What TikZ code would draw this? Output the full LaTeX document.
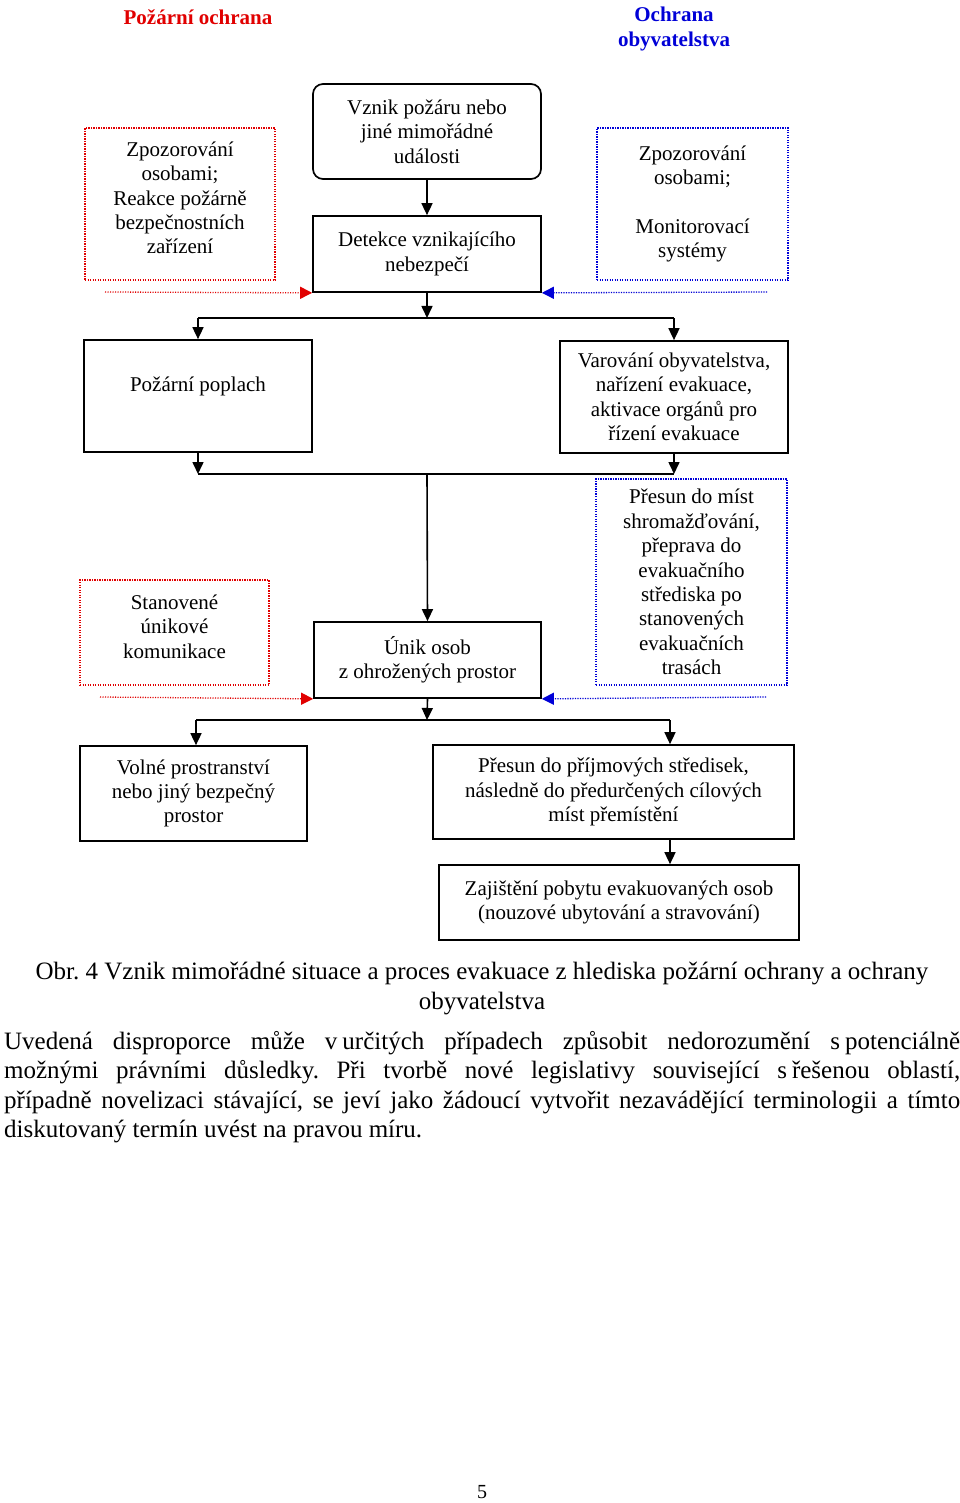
\documentclass[tikz,border=0pt]{standalone}
\usepackage{fontspec}
\setmainfont{Liberation Serif}
\usetikzlibrary{arrows.meta}
\definecolor{redc}{RGB}{225,0,0}
\definecolor{bluec}{RGB}{0,0,215}
\frenchspacing
\begin{document}
\begin{tikzpicture}[x=1pt,y=-1pt,
  box/.style={draw,line width=1.7pt,align=center,inner sep=0pt,
    font=\fontsize{21}{24.4}\selectfont},
  redbox/.style={draw=redc,line width=1.2pt,dash pattern=on 1.2pt off 1.3pt,align=center,inner sep=0pt,
    font=\fontsize{21}{24.4}\selectfont},
  bluebox/.style={draw=bluec,line width=1.2pt,dash pattern=on 1.2pt off 1.3pt,align=center,inner sep=0pt,
    font=\fontsize{21}{24.4}\selectfont},
  ln/.style={line width=1.6pt},
  arr/.style={line width=1.6pt,-{Triangle[length=12pt,width=11pt]}},
  redarr/.style={draw=redc,line width=1.3pt,dash pattern=on 1.2pt off 1.3pt,
    -{Triangle[length=12pt,width=12pt,fill=redc]}},
  bluearr/.style={draw=bluec,line width=1.3pt,dash pattern=on 1.2pt off 1.3pt,
    -{Triangle[length=12pt,width=12pt,fill=bluec]}},
  head/.style={font=\fontsize{21}{25}\selectfont\bfseries,align=center,inner sep=0pt}
]
\useasboundingbox (0,0) rectangle (960,1503);
\fill[white] (0,0) rectangle (960,1503);

% headers
\node[head,text=redc] (hpo) at (198,17) {Požární ochrana};
\node[head,text=bluec] (hoo) at (674,29) {Ochrana\\obyvatelstva};

% row 1
\node[box,rounded corners=10pt,minimum width=228,minimum height=95] (vznik) at (427,131.5)
  {Vznik požáru nebo\\jiné mimořádné\\události};
\node[box,minimum width=228,minimum height=76] (detekce) at (427,254)
  {Detekce vznikajícího\\nebezpečí};
\node[redbox,minimum width=190,minimum height=152] (zpl) at (180,204)
  {Zpozorování\\osobami;\\Reakce požárně\\bezpečnostních\\zařízení\\[-12pt]\mbox{}};
\node[bluebox,minimum width=191,minimum height=152] (zpr) at (692.5,204)
  {Zpozorování\\osobami;\\[24.4pt]Monitorovací\\systémy};

\coordinate (r1) at (105,292);
\coordinate (b1) at (767,292);
\draw[redarr] (r1) -- (detekce.south west);
\draw[bluearr] (b1) -- (detekce.south east);

\draw[arr] (vznik.south) -- (detekce.north);

% junction 1
\coordinate (j1) at (427,318);
\coordinate (j1l) at (198,318);
\coordinate (j1r) at (674,318);

\node[box,minimum width=228,minimum height=112] (poplach) at (198,396)
  {Požární poplach\\\mbox{}};
\node[box,minimum width=228,minimum height=112] (varovani) at (674,397)
  {Varování obyvatelstva,\\nařízení evakuace,\\aktivace orgánů pro\\řízení evakuace};

\draw[arr] (detekce.south) -- (j1);
\draw[ln] (j1l) -- (j1r);
\draw[arr] (j1l) -- (poplach.north);
\draw[arr] (j1r) -- (varovani.north);

% junction 2
\coordinate (j2) at (427,474);
\coordinate (j2l) at (198,474);
\coordinate (j2r) at (674,474);
\draw[arr] (poplach.south) -- (j2l);
\draw[arr] (varovani.south) -- (j2r);
\draw[ln] (j2l) -- (j2r);

\node[box,minimum width=227,minimum height=76] (unik) at (427.5,660)
  {Únik osob\\z ohrožených prostor};
\node[redbox,minimum width=189,minimum height=105] (stan) at (174.5,632.5)
  {Stanovené\\únikové\\komunikace\\[-12pt]\mbox{}};
\node[bluebox,minimum width=191,minimum height=206] (presun) at (691.5,582)
  {Přesun do míst\\shromažďování,\\přeprava do\\evakuačního\\střediska po\\stanovených\\evakuačních\\trasách};

\draw[arr] (j2) -- (unik.north);

\coordinate (r2) at (100,697);
\coordinate (b2) at (766,697);
\draw[redarr] (r2) -- (unik.south west);
\draw[bluearr] (b2) -- (unik.south east);

% junction 3
\coordinate (j3) at (427,720);
\coordinate (j3l) at (196,720);
\coordinate (j3r) at (670,720);

\node[box,minimum width=227,minimum height=95] (volne) at (193.5,793.5)
  {Volné prostranství\\nebo jiný bezpečný\\prostor};
\node[box,minimum width=361,minimum height=94] (prijem) at (613.5,792)
  {Přesun do příjmových středisek,\\následně do předurčených cílových\\míst přemístění};
\node[box,minimum width=360,minimum height=75] (zajist) at (619,902.5)
  {Zajištění pobytu evakuovaných osob\\(nouzové ubytování a stravování)};

\draw[arr] (unik.south) -- (j3);
\draw[ln] (j3l) -- (j3r);
\draw[arr] (j3l) -- (volne.north -| j3l);
\draw[arr] (j3r) -- (prijem.north -| j3r);
\draw[arr] (prijem.south -| j3r) -- (zajist.north -| j3r);

% caption
\node[align=center,inner sep=0pt,font=\fontsize{25}{30}\selectfont] (cap) at (482,988)
  {Obr. 4 Vznik mimořádné situace a proces evakuace z hlediska požární ochrany a ochrany\\obyvatelstva};

% paragraph
\node[anchor=north west,inner sep=0pt] (par) at (4,1031)
  {\parbox{956pt}{\fontsize{25}{29.4}\selectfont\noindent
  Uvedená disproporce může v\hspace{0.2em}určitých případech způsobit nedorozumění s\hspace{0.2em}potenciálně\linebreak
  možnými právními důsledky. Při tvorbě nové legislativy související s\hspace{0.2em}řešenou oblastí,\linebreak
  případně novelizaci stávající, se jeví jako žádoucí vytvořit nezavádějící terminologii a tímto\linebreak
  diskutovaný termín uvést na pravou míru.}};

% page number
\node[inner sep=0pt,font=\fontsize{20}{24}\selectfont] (pg) at (482,1492) {5};
\end{tikzpicture}
\end{document}
